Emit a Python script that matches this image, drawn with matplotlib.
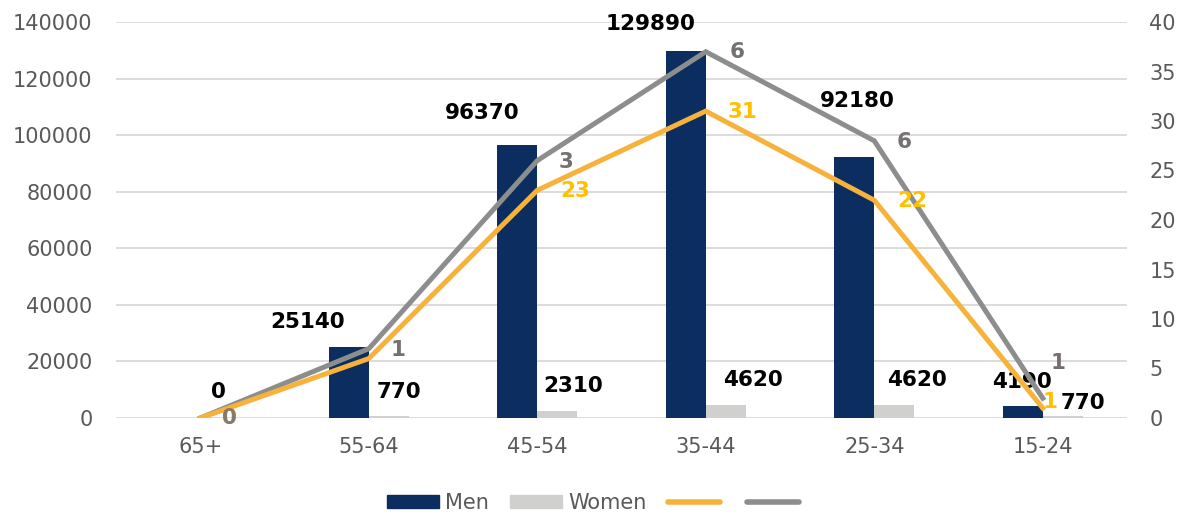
import matplotlib
matplotlib.use("Agg")
import matplotlib.pyplot as plt
from matplotlib.patches import Patch
from matplotlib.lines import Line2D
import numpy as np

categories = ["65+", "55-64", "45-54", "35-44", "25-34", "15-24"]
men = [0, 25140, 96370, 129890, 92180, 4190]
women = [0, 770, 2310, 4620, 4620, 770]
line_orange = [0, 6, 23, 31, 22, 1]
line_gray = [0, 1, 3, 6, 6, 1]   # stacked on top of orange

men_labels = ["0", "25140", "96370", "129890", "92180", "4190"]
women_labels = ["", "770", "2310", "4620", "4620", "770"]
orange_labels = ["0", "", "23", "31", "22", "1"]
gray_labels = ["0", "1", "3", "6", "6", "1"]

# label offsets in pixels (style)
men_off = [(38, 26), (-41, 25), (-35, 32), (-35, 27), (3, 56), (-1, 24)]
women_off = [(0, 0), (10, 24), (16, 25), (27, 25), (23, 25), (20, 13)]
orange_off = [(29, 0), (0, 0), (38, -1), (37, -1), (38, -1), (7, 6)]
gray_off = [(29, 0), (29, -1), (29, -1), (31, 0), (30, -1), (15, 35)]

NAVY = "#0b2d5f"
LGRAY = "#d0d0cf"
ORANGE = "#f7b23b"
GRAYL = "#8c8e8e"
TXT = "#595959"

fig = plt.figure(figsize=(11.85, 5.16), dpi=100)
ax = fig.add_axes([116 / 1185, 1 - 418 / 516, (1127 - 116) / 1185, (418 - 22) / 516])
ax2 = ax.twinx()

x = np.arange(len(categories))
w = 0.237
ax.bar(x - w / 2, men, width=w, color=NAVY, zorder=2)
ax.bar(x + w / 2, women, width=w, color=LGRAY, zorder=2)

ax.set_xlim(-0.5, len(categories) - 0.5)
ax.set_ylim(0, 140000)
ax.set_yticks(np.arange(0, 140001, 20000))
ax.grid(axis="y", color="#d9d9d9", linewidth=1.3, zorder=0)
ax.set_axisbelow(True)
for s in ax.spines.values():
    s.set_visible(False)
for s in ax2.spines.values():
    s.set_visible(False)
ax.set_xticks(x)
ax.set_xticklabels(categories)
ax.tick_params(axis="both", length=0, labelsize=15, labelcolor=TXT)
ax.tick_params(axis="y", pad=17)
ax.tick_params(axis="x", pad=14)

ax2.set_ylim(0, 40)
ax2.set_yticks(np.arange(0, 41, 5))
ax2.tick_params(axis="y", length=0, labelsize=15, labelcolor=TXT, pad=16)

cum = np.array(line_orange) + np.array(line_gray)
ax2.plot(x, cum, color=GRAYL, linewidth=3.6, solid_joinstyle="miter", zorder=3)
ax2.plot(x, line_orange, color=ORANGE, linewidth=3.6, solid_joinstyle="miter", zorder=4)

for i in range(len(categories)):
    if men_labels[i]:
        ax.annotate(men_labels[i], (x[i] - w / 2, men[i]), xytext=men_off[i],
                    textcoords="offset pixels", ha="center", va="center",
                    fontsize=15.5, fontweight="bold", color="black", zorder=6)
    if women_labels[i]:
        ax.annotate(women_labels[i], (x[i] + w / 2, women[i]), xytext=women_off[i],
                    textcoords="offset pixels", ha="center", va="center",
                    fontsize=15.5, fontweight="bold", color="black", zorder=6)
    if orange_labels[i]:
        ax2.annotate(orange_labels[i], (x[i], line_orange[i]), xytext=orange_off[i],
                     textcoords="offset pixels", ha="center", va="center",
                     fontsize=15.5, fontweight="bold", color="#ffc000", zorder=6)
    if gray_labels[i]:
        ax2.annotate(gray_labels[i], (x[i], cum[i]), xytext=gray_off[i],
                     textcoords="offset pixels", ha="center", va="center",
                     fontsize=15.5, fontweight="bold",
                     color="#857b6b" if i == 0 else "#767171", zorder=7)

handles = [Patch(color=NAVY), Patch(color=LGRAY),
           Line2D([], [], color=ORANGE, linewidth=4, solid_capstyle="round"),
           Line2D([], [], color=GRAYL, linewidth=4, solid_capstyle="round")]
leg = fig.legend(handles, ["Men", "Women", "", ""], loc="center",
                 bbox_to_anchor=(596 / 1185, 1 - 503 / 516), ncol=4, frameon=False,
                 fontsize=15, handlelength=2.5, handleheight=0.6,
                 handletextpad=0.3, columnspacing=1.0, labelcolor=TXT)

fig.savefig("out.png", dpi=100)
